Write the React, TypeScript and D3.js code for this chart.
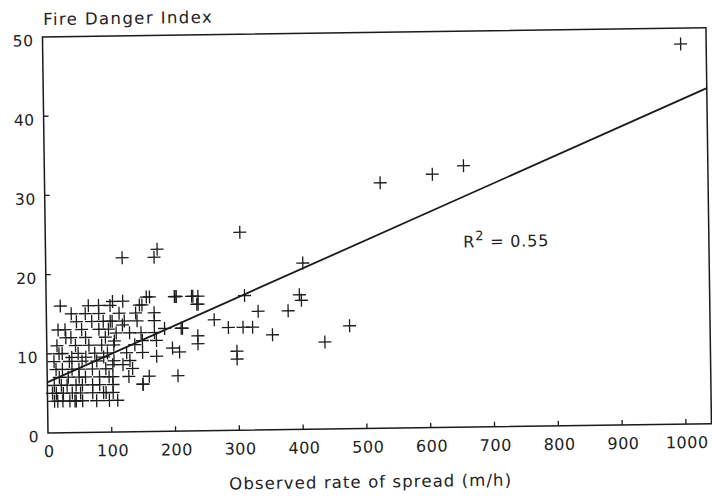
import React from "react";
import * as d3 from "d3";

// Observed rate of spread (m/h)
const spreadRate = [
  1000, 657, 608, 526, 305, 403, 120, 170, 175, 311, 397, 400, 332, 379, 475, 436, 354,
  263, 285, 308, 323, 298, 298, 238, 238, 230, 237, 237, 202, 208, 205, 150, 213, 228,
  236, 204, 162, 150, 104, 120, 114, 169, 142, 169, 103, 119, 211, 109, 130, 148, 169,
  172, 150, 106, 138, 197, 150, 172, 130, 103, 119, 134, 103, 103, 150, 103, 157, 201, 146,
  22, 82, 100, 39, 61, 82, 47, 71, 89, 100, 29, 55, 82, 97, 38, 61, 92, 16, 45, 66, 86,
  105, 19, 49, 75, 95, 24, 39, 61, 89, 11, 35, 55, 78, 105, 14, 24, 39, 50, 71, 92, 19,
  33, 50, 82, 97, 11, 22, 31, 45, 55, 71, 82, 8, 14, 25, 39, 52, 71, 92, 11, 16, 24, 35,
  45, 55, 77, 97, 30, 66, 88, 122, 128, 60, 18, 43, 110, 125, 140, 160, 185,
];

// Fire Danger Index
const fireDangerIndex = [
  48, 33, 32, 31, 25, 21, 22, 22, 23, 17, 17, 16.3, 15, 15, 13, 11, 12,
  14, 13, 13, 13, 10, 9, 17, 16, 17, 12, 11, 17, 10, 7, 6, 13, 17,
  16, 17, 17, 16, 16.5, 16.5, 15, 15, 14, 14, 14, 13.5, 13, 12.5, 12.5, 12.5, 12.5,
  11.5, 11.5, 11.5, 11, 10.5, 10, 9.5, 9, 8.5, 8.5, 8, 7, 6, 6, 5, 17, 17, 16,
  16, 16, 16, 15, 15, 15, 14, 14, 14, 14, 13, 13, 13, 13, 12, 12, 12, 11, 11, 11, 11,
  11, 10, 10, 10, 10, 10, 9.5, 9.5, 9.5, 9, 9, 9, 9, 9, 8, 8, 8, 8, 8, 8, 7,
  7, 7, 7, 7, 6, 6, 6, 6, 6, 6, 6, 5, 5, 5, 5, 5, 5, 5, 4, 4, 4, 4,
  4, 4, 4, 4, 12, 16, 5, 14, 7, 7, 13, 4, 4, 10, 15, 7, 13,
];

const xTicks = [0, 100, 200, 300, 400, 500, 600, 700, 800, 900, 1000];
const yTicks = [0, 10, 20, 30, 40, 50];

const regressionIntercept = 6.4;
const regressionSlope = 0.0346;
const rSquaredText = "0.55";

const xTitle = "Observed rate of spread (m/h)";
const yTitle = "Fire Danger Index";

export default function App() {
  const width = 712;
  const height = 496;
  const x = d3.scaleLinear().domain([0, 1000]).range([48, 686]);
  const y = d3.scaleLinear().domain([0, 50]).range([433, 37]);
  const xMax = 1040;
  const font = "'DejaVu Sans', sans-serif";
  const ink = "#1a1a1a";
  const arm = 6.5;

  const line = d3
    .line<number>()
    .x((d) => x(d))
    .y((d) => y(regressionIntercept + regressionSlope * d));

  return (
    <svg
      width={width}
      height={height}
      style={{ position: "absolute", left: 0, top: 0, background: "#fff" }}
    >
      <g transform={`rotate(-0.8, ${x(0)}, ${y(0)})`}>
        {/* frame */}
        <path
          d={`M${x(0)},${y(0)} L${x(0)},${y(50)} L${x(xMax)},${y(50)} L${x(xMax)},${y(0)} Z`}
          fill="none"
          stroke={ink}
          strokeWidth={1.5}
        />
        {/* x ticks */}
        {xTicks.map((t) => (
          <g key={"xt" + t}>
            {t > 0 && (
              <line x1={x(t)} x2={x(t)} y1={y(0)} y2={y(0) - 5} stroke={ink} strokeWidth={1.3} />
            )}
            <text
              x={x(t) + 1}
              y={y(0) + 24}
              textAnchor="middle"
              fontFamily={font}
              fontSize={16}
              fill="#222"
              letterSpacing={0.5}
            >
              {t}
            </text>
          </g>
        ))}
        {/* y ticks */}
        {yTicks.map((t) => (
          <g key={"yt" + t}>
            {t > 0 && t < 50 && (
              <line x1={x(0)} x2={x(0) + 5} y1={y(t)} y2={y(t)} stroke={ink} strokeWidth={1.3} />
            )}
            <text
              x={x(0) - 9}
              y={y(t) + 9}
              textAnchor="end"
              fontFamily={font}
              fontSize={15.5}
              fill="#222"
              letterSpacing={0.5}
            >
              {t}
            </text>
          </g>
        ))}
        {/* regression line */}
        <path d={line([0, xMax]) || ""} fill="none" stroke={ink} strokeWidth={1.8} />
        {/* points */}
        {spreadRate.map((sx, i) => {
          const cx = x(sx);
          const cy = y(fireDangerIndex[i]);
          return (
            <path
              key={"p" + i}
              d={`M${cx - arm},${cy}H${cx + arm}M${cx},${cy - arm}V${cy + arm}`}
              stroke={ink}
              strokeWidth={1.3}
              fill="none"
            />
          );
        })}
        {/* R squared */}
        <text x={x(655)} y={y(22.7)} fontFamily={font} fontSize={16} fill="#222" letterSpacing={0.8}>
          R
          <tspan dy={-7} fontSize={13}>
            2
          </tspan>
          <tspan dy={7}>{" = " + rSquaredText}</tspan>
        </text>
        {/* titles */}
        <text x={x(0) + 1} y={y(50) - 12} fontFamily={font} fontSize={16.5} fill="#222" letterSpacing={1.4}>
          {yTitle}
        </text>
        <text
          x={370}
          y={y(0) + 59}
          textAnchor="middle"
          fontFamily={font}
          fontSize={16.5}
          fill="#222"
          letterSpacing={1.1}
        >
          {xTitle}
        </text>
      </g>
    </svg>
  );
}
